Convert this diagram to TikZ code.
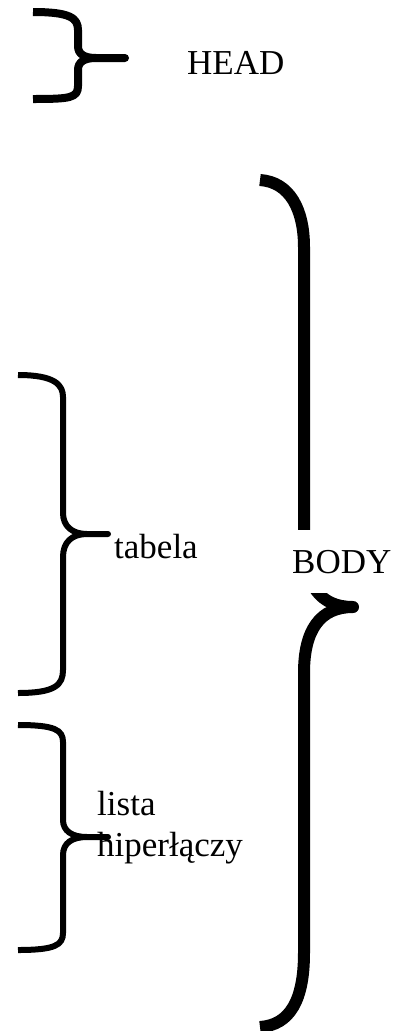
\documentclass[tikz,border=0pt]{standalone}
\usepackage{fontspec}
\setmainfont{Liberation Serif}
\begin{document}
\begin{tikzpicture}[x=1pt, y=-1pt,
    curly/.style={line width=#1, line join=round},
    txt/.style={inner sep=0pt, font=\fontsize{35}{41}\selectfont}]
    \useasboundingbox (0,0) rectangle (393,1031);
    % HEAD
    \draw[curly=8pt] (33,12) .. controls (70,12) and (78,18) .. (78,30) -- (78,46)
        .. controls (78,54) and (84,58) .. (96,58) -- (125,58) -- (96,58)
        .. controls (84,58) and (78,62) .. (78,70) -- (78,86)
        .. controls (78,98) and (70,99) .. (33,99);
    \node[txt, anchor=base west] (head) at (187,74) {HEAD};
    % BODY
    \draw[curly=12pt] (260,180) .. controls (290,182) and (304,210) .. (304,247) -- (304,541)
        .. controls (304,585) and (320,607) .. (353,607)
        .. controls (320,607) and (304,630) .. (304,673) -- (304,953)
        .. controls (304,1000) and (290,1025) .. (260,1027);
    \node[txt, anchor=base west, fill=white, inner xsep=0pt, inner ysep=20pt] (body) at (292,573) {BODY};
    % tabela
    \draw[curly=6pt] (18,375) .. controls (55,375) and (63,385) .. (63,397) -- (63,513)
        .. controls (63,526) and (72,534) .. (87,534) -- (108,534) -- (87,534)
        .. controls (72,534) and (63,542) .. (63,557) -- (63,670)
        .. controls (63,685) and (55,693) .. (18,693);
    \node[txt, anchor=base west] (tabela) at (114,558) {tabela};
    % lista hiperlaczy
    \draw[curly=6pt] (18,725) .. controls (55,725) and (63,730) .. (63,742) -- (63,820)
        .. controls (63,831) and (72,837) .. (87,837) -- (108,837) -- (87,837)
        .. controls (72,837) and (63,843) .. (63,855) -- (63,933)
        .. controls (63,945) and (55,950) .. (18,950);
    \node[txt, anchor=north west, align=left] (lista) at (97,791) {lista\\hiperłączy};
\end{tikzpicture}
\end{document}
